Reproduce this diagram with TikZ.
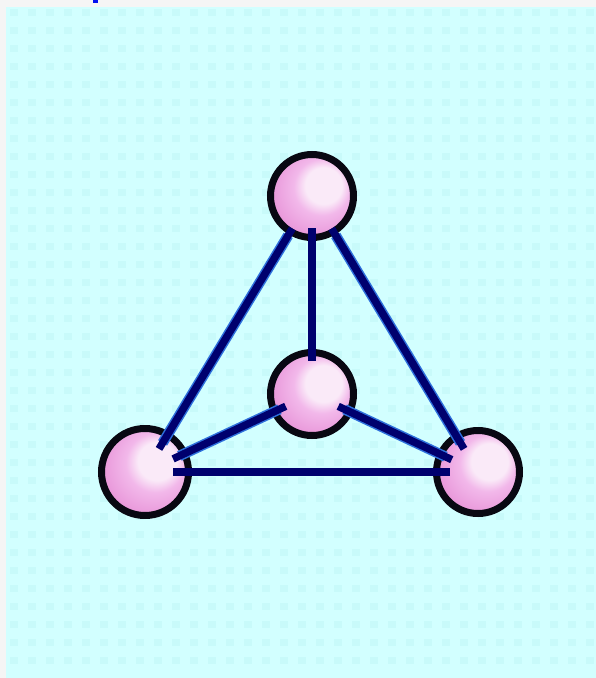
\documentclass[tikz,border=0pt]{standalone}
\usetikzlibrary{calc}
\definecolor{paper}{HTML}{F5F5F5}
\definecolor{sky}{HTML}{D2FFFF}
\definecolor{skydot}{HTML}{C8FAFA}
\definecolor{navy}{HTML}{00006E}
\definecolor{bondedge}{HTML}{2E70DC}
\definecolor{pkhi}{HTML}{FAEAF8}
\definecolor{pkmid}{HTML}{F2B8EA}
\definecolor{pkbody}{HTML}{EA9CDC}
\definecolor{pkdark}{HTML}{D666BE}
\definecolor{rim}{HTML}{080812}
\definecolor{inkblue}{HTML}{0010F0}

% glossy pink sphere, broad highlight towards the upper right
\pgfdeclareradialshading{pinkball}{\pgfqpoint{9bp}{8bp}}{%
  color(0bp)=(pkhi); color(11bp)=(pkhi); color(17bp)=(pkmid);
  color(27bp)=(pkbody); color(40bp)=(pkdark); color(50bp)=(pkdark)}

\begin{document}
\begin{tikzpicture}[x=1pt,y=-1pt,
  ball/.style={circle, inner sep=0pt, draw=rim, line width=7pt, shade, shading=pinkball},
  bond/.style={draw=navy, line width=7.5pt},
  halo/.style={draw=bondedge, line width=10.5pt},
]
\useasboundingbox (0,0) rectangle (596,678);

% backdrop
\fill[paper] (0,0) rectangle (596,678);
\fill[sky] (6,7) rectangle (596,678);
\foreach \i in {0,...,32}
  \foreach \j in {0,...,36}
    \fill[skydot] (10+18*\i, 9+18*\j) rectangle ++(8,7);
\fill[inkblue] (93,0) rectangle (98,3);

% atoms
\node[ball, minimum size=83pt] (top)   at (312,196) {};
\node[ball, minimum size=83pt] (mid)   at (312,394) {};
\node[ball, minimum size=87pt] (left)  at (145,472) {};
\node[ball, minimum size=83pt] (right) at (478,472) {};

% bonds (slanted ones get a soft blue edge)
\draw[halo, shorten <=46pt, shorten >=34pt] (top.center) -- (left.center);
\draw[halo, shorten <=46pt, shorten >=34pt] (top.center) -- (right.center);
\draw[halo, shorten <=36pt, shorten >=38pt] (mid.center) -- (left.center);
\draw[halo, shorten <=36pt, shorten >=36pt] (mid.center) -- (right.center);

\draw[bond, shorten <=38pt, shorten >=27pt] (top.center) -- (left.center);
\draw[bond, shorten <=38pt, shorten >=27pt] (top.center) -- (right.center);
\draw[bond, shorten <=32pt, shorten >=33pt] (top.center) -- (mid.center);
\draw[bond, shorten <=29pt, shorten >=31pt] (mid.center) -- (left.center);
\draw[bond, shorten <=29pt, shorten >=29pt] (mid.center) -- (right.center);
\draw[bond, shorten <=28pt, shorten >=28pt] (left.center) -- (right.center);
\end{tikzpicture}
\end{document}
